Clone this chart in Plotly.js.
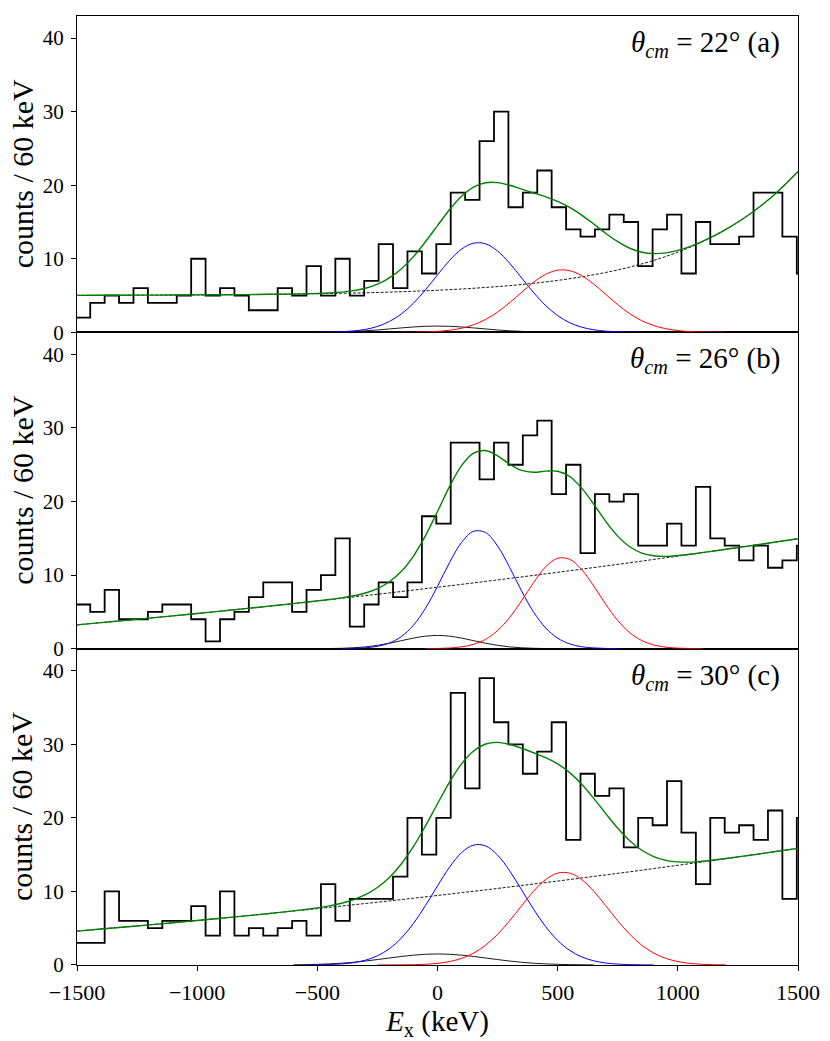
<!DOCTYPE html>
<html>
<head>
<meta charset="utf-8">
<script src="https://cdn.plot.ly/plotly-3.0.1.min.js"></script>
<style>html,body{margin:0;padding:0;background:#fff;}</style>
</head>
<body>
<div id="chart" style="width:830px;height:1041px;"></div>
<script>
// ---------- data ----------
const binStart = -1505;   // keV, left edge of first histogram bin
const binWidth = 60;      // keV

const panelLabels = ["22° (a)", "26° (b)", "30° (c)"];

const countsA = [2,4,5,4,6,4,4,5,10,5,6,5,3,3,6,5,9,5,10,5,7,12,6,11,8,12,19,18,26,30,17,19,22,17,14,13,14,16,15,9,14,16,8,15,12,12,13,19,19,13,8];
const countsB = [6,5,8,4,4,5,6,6,4,1,4,5,7,9,9,5,8,10,15,3,6,9,7,9,18,17,28,28,23,28,25,29,31,21,25,13,21,20,21,14,14,17,14,22,15,14,12,14,11,12,14];
const countsC = [3,3,10,6,6,5,6,6,8,4,10,4,5,4,5,6,4,11,6,9,9,9,12,20,15,20,37,24,39,33,30,26,29,33,17,26,23,24,16,20,19,25,18,11,20,18,19,17,21,9,20];

// sample positions of the fitted curves (keV)
const bgX = [-1500,-1400,-1300,-1200,-1100,-1000,-900,-800,-700,-600,-500,-400,-300,-200,-100,0,100,200,300,400,500,600,700,800,900,1000,1100,1200,1300,1400,1500];
const gaussX = [-600,-550,-500,-450,-400,-350,-300,-250,-200,-150,-100,-50,0,50,100,150,200,250,300,350,400,450,500,550,600,650,700,750,800,850,900,950,1000,1050,1100,1150,1200];
const totalX = [-1500,-1400,-1300,-1200,-1100,-1000,-900,-800,-700,-600,-550,-500,-450,-400,-350,-300,-250,-200,-150,-100,-50,0,50,100,150,200,250,300,350,400,450,500,550,600,650,700,750,800,850,900,950,1000,1050,1100,1150,1200,1300,1400,1500];

// panel (a)
const bgA    = [5.03,5.04,5.05,5.06,5.07,5.09,5.11,5.13,5.17,5.20,5.25,5.31,5.38,5.47,5.58,5.72,5.89,6.10,6.35,6.67,7.06,7.54,8.14,8.87,9.78,10.90,12.28,13.98,16.08,18.67,21.86];
const blueA  = [0,0,0.01,0.03,0.08,0.19,0.40,0.80,1.48,2.51,3.96,5.78,7.81,9.77,11.31,12.12,12.03,11.05,9.40,7.40,5.39,3.64,2.27,1.31,0.70,0.35,0.16,0.07,0.03,0.01,0,0,0,0,0,0,0];
const redA   = [0,0,0,0,0,0,0,0,0,0.01,0.02,0.06,0.13,0.28,0.56,1.03,1.75,2.76,4.03,5.44,6.81,7.88,8.45,8.38,7.70,6.55,5.16,3.76,2.53,1.58,0.92,0.49,0.24,0.11,0.05,0.02,0.01];
const blackA = [0,0.01,0.02,0.04,0.07,0.13,0.21,0.32,0.46,0.60,0.73,0.82,0.85,0.82,0.73,0.60,0.46,0.32,0.21,0.13,0.07,0.04,0.02,0.01,0,0,0,0,0,0,0,0,0,0,0,0,0];
const totalA = [5.03,5.04,5.05,5.06,5.07,5.09,5.11,5.13,5.17,5.20,5.24,5.28,5.35,5.46,5.67,5.99,6.55,7.41,8.65,10.29,12.31,14.51,16.67,18.49,19.74,20.34,20.35,19.99,19.47,18.94,18.42,17.80,16.99,15.94,14.73,13.46,12.32,11.43,10.89,10.70,10.80,11.14,11.66,12.33,13.10,13.99,16.08,18.67,21.86];

// panel (b)
const bgB    = [3.24,3.54,3.84,4.15,4.46,4.78,5.11,5.44,5.78,6.13,6.48,6.84,7.21,7.58,7.96,8.35,8.74,9.14,9.55,9.96,10.38,10.81,11.24,11.68,12.13,12.58,13.04,13.51,13.98,14.46,14.94];
const blueB  = [0,0,0,0,0.01,0.04,0.12,0.32,0.77,1.65,3.19,5.49,8.47,11.69,14.44,15.96,15.78,13.96,11.06,7.84,4.97,2.82,1.43,0.65,0.26,0.10,0.03,0.01,0,0,0,0,0,0,0,0,0];
const redB   = [0,0,0,0,0,0,0,0,0,0,0,0.01,0.03,0.09,0.25,0.59,1.27,2.46,4.23,6.52,9.00,11.12,12.29,12.15,10.75,8.52,6.04,3.83,2.17,1.10,0.50,0.20,0.07,0.02,0.01,0,0];
const blackB = [0,0,0.01,0.02,0.05,0.12,0.24,0.45,0.74,1.09,1.44,1.70,1.80,1.70,1.44,1.09,0.74,0.45,0.24,0.12,0.05,0.02,0.01,0,0,0,0,0,0,0,0,0,0,0,0,0,0];
const totalB = [3.24,3.54,3.84,4.15,4.46,4.78,5.11,5.44,5.78,6.13,6.31,6.49,6.68,6.90,7.19,7.57,8.17,9.09,10.51,12.59,15.36,18.65,22.03,24.87,26.58,26.93,26.22,25.08,24.24,23.98,24.13,24.11,23.40,21.82,19.64,17.31,15.30,13.85,13.00,12.63,12.55,12.65,12.83,13.05,13.27,13.51,13.98,14.46,14.94];

// panel (c)
const bgC    = [4.61,4.89,5.17,5.45,5.75,6.05,6.36,6.67,7.00,7.33,7.66,8.01,8.36,8.71,9.08,9.45,9.83,10.21,10.61,11.01,11.41,11.83,12.25,12.67,13.11,13.55,14.00,14.45,14.92,15.39,15.86];
const blueC  = [0,0.01,0.02,0.06,0.14,0.32,0.65,1.25,2.22,3.68,5.65,8.09,10.75,13.29,15.27,16.30,16.19,14.94,12.81,10.22,7.57,5.22,3.34,1.99,1.10,0.57,0.27,0.12,0.05,0.02,0.01,0,0,0,0,0,0];
const redC   = [0,0,0,0,0,0,0,0.01,0.01,0.02,0.04,0.10,0.22,0.47,0.90,1.62,2.69,4.17,6.01,8.06,10.03,11.61,12.49,12.49,11.61,10.03,8.06,6.01,4.17,2.69,1.62,0.90,0.47,0.22,0.10,0.04,0.02];
const blackC = [0.03,0.05,0.09,0.15,0.24,0.37,0.54,0.74,0.95,1.16,1.34,1.46,1.50,1.46,1.34,1.16,0.95,0.74,0.54,0.37,0.24,0.15,0.09,0.05,0.03,0.01,0,0,0,0,0,0,0,0,0,0,0];
const totalC = [4.61,4.89,5.17,5.45,5.75,6.05,6.36,6.67,7.00,7.36,7.55,7.77,8.04,8.39,8.87,9.55,10.53,11.90,13.76,16.11,18.91,21.92,24.86,27.34,29.10,30.04,30.26,29.97,29.46,28.85,28.19,27.33,26.15,24.57,22.65,20.58,18.59,16.89,15.60,14.74,14.23,14.02,13.99,14.10,14.27,14.47,14.92,15.39,15.86];

const xTicks = [-1500,-1000,-500,0,500,1000,1500];
const yTicks = [0,10,20,30,40];
const yTitle = "counts / 60 keV";

// ---------- build ----------
const FONT = "Liberation Serif";
const panels = [
  {counts: countsA, bg: bgA, blue: blueA, red: redA, black: blackA, total: totalA, label: panelLabels[0], ax: '3'},
  {counts: countsB, bg: bgB, blue: blueB, red: redB, black: blackB, total: totalB, label: panelLabels[1], ax: '2'},
  {counts: countsC, bg: bgC, blue: blueC, red: redC, black: blackC, total: totalC, label: panelLabels[2], ax: ''}
];

// drop the leading / trailing zero samples so the tails do not paint over the axis line
function trimZeros(xs, ys) {
  let a = 0, b = ys.length - 1;
  while (a < b && ys[a] === 0) a++;
  while (b > a && ys[b] === 0) b--;
  return {x: xs.slice(a, b + 1), y: ys.slice(a, b + 1)};
}

const traces = [];
panels.forEach(p => {
  const xa = 'x' + p.ax, ya = 'y' + p.ax;
  const edges = p.counts.map((_, i) => binStart + i * binWidth);
  edges.push(binStart + p.counts.length * binWidth);
  const yy = p.counts.slice();
  yy.push(p.counts[p.counts.length - 1]);
  traces.push({x: edges, y: yy, xaxis: xa, yaxis: ya, mode: 'lines',
    line: {shape: 'hv', color: 'black', width: 1.8}, hoverinfo: 'skip'});
  traces.push({x: bgX, y: p.bg, xaxis: xa, yaxis: ya, mode: 'lines',
    line: {shape: 'spline', color: 'black', width: 0.9, dash: '3px,1.6px'}, hoverinfo: 'skip'});
  const comps = [[p.black, 'black'], [p.blue, '#0000ff'], [p.red, '#ff0000']];
  comps.forEach(([arr, col]) => {
    const t = trimZeros(gaussX, arr);
    traces.push({x: t.x, y: t.y, xaxis: xa, yaxis: ya, mode: 'lines',
      line: {shape: 'spline', color: col, width: col === 'black' ? 0.9 : 1.0}, hoverinfo: 'skip'});
  });
  traces.push({x: totalX, y: p.total, xaxis: xa, yaxis: ya, mode: 'lines',
    line: {shape: 'spline', color: '#008000', width: 1.4}, hoverinfo: 'skip'});
});

function xAxis(showLabels, anchor) {
  const a = {
    range: [-1500, 1500], anchor: anchor, showgrid: false, zeroline: false,
    showline: true, mirror: true, linecolor: 'black', linewidth: 1,
    tickvals: xTicks, ticks: showLabels ? 'outside' : '', ticklen: 5, tickwidth: 1, tickcolor: 'black',
    showticklabels: showLabels, tickfont: {family: FONT, size: 22, color: 'black'}, ticklabelstandoff: 3
  };
  if (showLabels) a.title = {text: '<i>E</i><sub>x</sub> (keV)', font: {family: FONT, size: 29, color: 'black'}, standoff: 6};
  return a;
}
function yAxis(domain, anchor) {
  return {
    domain: domain, anchor: anchor, range: [0, 43], showgrid: false, zeroline: false,
    showline: true, mirror: true, linecolor: 'black', linewidth: 1,
    tickvals: yTicks, ticks: 'outside', ticklen: 5, tickwidth: 1, tickcolor: 'black',
    tickfont: {family: FONT, size: 21, color: 'black'}, ticklabelstandoff: 3
  };
}

const annotations = [];
panels.forEach(p => {
  annotations.push({
    xref: 'x' + p.ax + ' domain', yref: 'y' + p.ax + ' domain',
    x: 0.978, y: 0.912, xanchor: 'right', yanchor: 'middle', showarrow: false,
    text: '<i>θ</i><sub><i>cm</i></sub> = ' + p.label,
    font: {family: FONT, size: 29, color: 'black'}
  });
  // y-axis title of the panel (rotated text)
  annotations.push({
    xref: 'paper', yref: 'y' + p.ax + ' domain',
    x: -0.076, y: 0.5, xanchor: 'center', yanchor: 'middle', showarrow: false, textangle: -90,
    text: yTitle, font: {family: FONT, size: 30, color: 'black'}
  });
});

const layout = {
  width: 830, height: 1041,
  margin: {l: 77, r: 32, t: 16, b: 76, pad: 0},
  paper_bgcolor: 'white', plot_bgcolor: 'white',
  showlegend: false,
  font: {family: FONT, color: 'black', size: 22},
  xaxis: xAxis(true, 'y'),
  xaxis2: xAxis(false, 'y2'),
  xaxis3: xAxis(false, 'y3'),
  yaxis: yAxis([0, 1/3], 'x'),
  yaxis2: yAxis([1/3, 2/3], 'x2'),
  yaxis3: yAxis([2/3, 1], 'x3'),
  annotations: annotations
};

Plotly.newPlot('chart', traces, layout, {displayModeBar: false, staticPlot: true});
</script>
</body>
</html>
